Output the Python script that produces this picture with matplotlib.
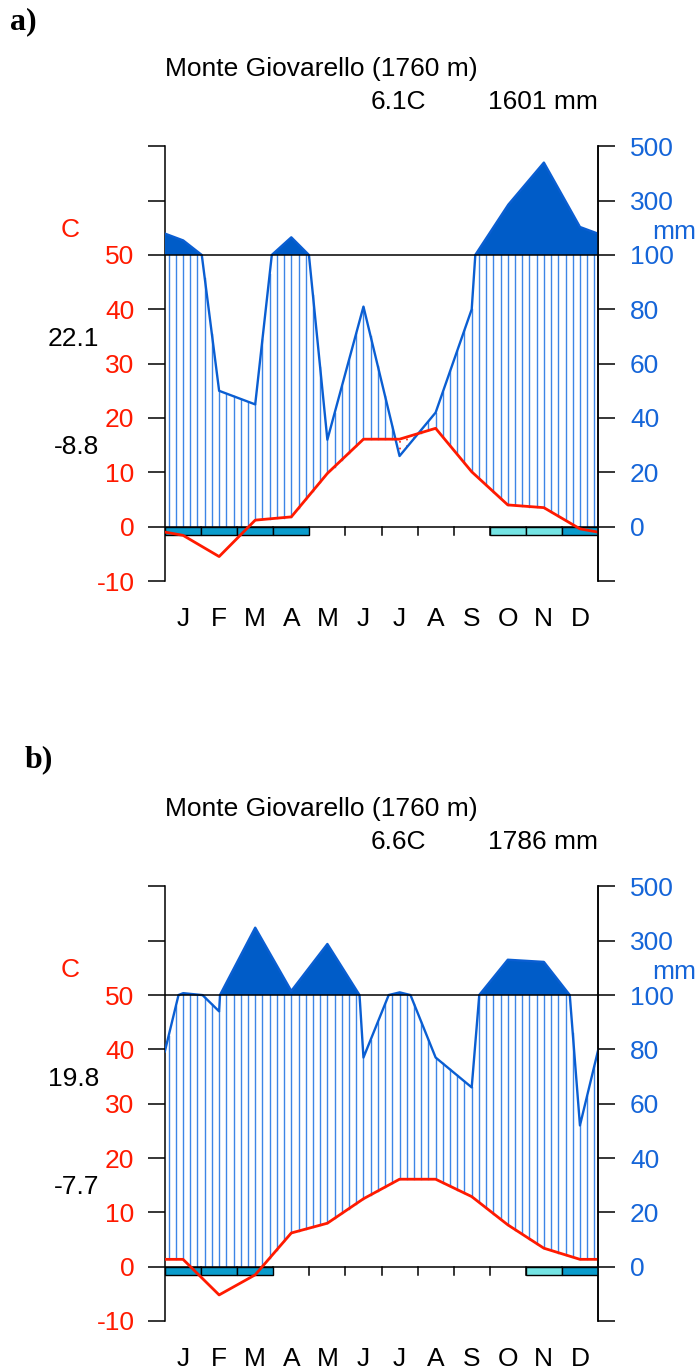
import numpy as np
import matplotlib
matplotlib.use("Agg")
import matplotlib.pyplot as plt

plt.rcParams['font.family'] = ['Liberation Sans', 'DejaVu Sans']

# ---------------- data ----------------
months = ["J", "F", "M", "A", "M", "J", "J", "A", "S", "O", "N", "D"]
station = "Monte Giovarello (1760 m)"

temp_a = [-1.6, -5.5, 1.2, 1.8, 9.8, 16.1, 16.1, 18.1, 10.1, 4.0, 3.5, -0.4]
prec_a = [154, 50, 45, 165, 32, 81, 26, 42, 80, 283, 440, 203]
absmax_a = "22.1"
absmin_a = "-8.8"
frost_a = [2, 2, 2, 2, 0, 0, 0, 0, 0, 1, 1, 2]   # 2 = sure frost, 1 = probable

temp_b = [1.35, -5.2, -1.5, 6.2, 8.0, 12.5, 16.1, 16.1, 12.9, 7.7, 3.4, 1.35]
prec_b = [107, 94, 348, 115, 288, 77, 110, 77, 66, 230, 222, 52]
absmax_b = "19.8"
absmin_b = "-7.7"
frost_b = [2, 2, 2, 0, 0, 0, 0, 0, 0, 0, 1, 2]

temp_ticks = [-10, 0, 10, 20, 30, 40, 50]
prec_labels = ["0", "20", "40", "60", "80", "100", "300", "500"]
prec_label_pos = [0, 10, 20, 30, 40, 50, 60, 70]

# ---------------- styles ----------------
W, H = 697, 1372
RED = "#ff1a00"
BLUE_TXT = "#1565d8"
FILL = "#005cc8"
PLINE = "#0a5ed2"
HATCH = "#3d85e6"
FROST_DARK = "#0a9ccc"
FROST_LIGHT = "#74e4e4"
FS = 19

fig = plt.figure(figsize=(W / 100, H / 100), dpi=100)


def px_axes(x0, x1, ytop, ybot):
    return fig.add_axes([x0 / W, 1 - ybot / H, (x1 - x0) / W, (ybot - ytop) / H])


def ptrans(p):
    p = np.asarray(p, dtype=float)
    return np.where(p <= 100, p / 2.0, 50 + (p - 100) / 20.0)


def diagram(ax, temp, prec, absmax, absmin, frost):
    temp = np.asarray(temp, float)
    prec = np.asarray(prec, float)
    x = np.arange(14) - 0.5
    t2 = np.concatenate([[temp[-1]], temp, [temp[0]]])
    p2 = np.concatenate([[prec[-1]], prec, [prec[0]]])

    # hatch / dry segments at coarse interpolation (66 points)
    xi = np.linspace(-0.5, 12.5, 66)
    ti = np.interp(xi, x, t2)
    pi = ptrans(np.interp(xi, x, p2))
    for xx, tt, pp in zip(xi, ti, pi):
        if xx < 0 or xx > 12:
            continue
        lo = max(tt, 0)
        hi = min(pp, 50)
        if hi > tt:
            ax.plot([xx, xx], [lo, hi], color=HATCH, lw=1.0, zorder=2)
        elif pp < tt:
            ax.plot([xx, xx], [pp, tt], color=RED, lw=1.2,
                    ls=(0, (1, 3)), zorder=2)

    # fine interpolation for line & fill
    xf = np.linspace(-0.5, 12.5, 2601)
    pf = ptrans(np.interp(xf, x, p2))
    ax.fill_between(xf, 50, pf, where=pf > 50, color=FILL, lw=0,
                    interpolate=True, zorder=3)
    ax.plot(xf, pf, color=PLINE, lw=1.7, zorder=4)

    # frost boxes and month ticks
    for b in range(1, 12):
        ax.plot([b, b], [0, -1.5], color="black", lw=1.1, zorder=5)
    for m, f in enumerate(frost):
        if f:
            ax.add_patch(plt.Rectangle((m, -1.5), 1, 1.5,
                                       facecolor=FROST_DARK if f == 2 else FROST_LIGHT,
                                       edgecolor="black", lw=1.0, zorder=5))

    ax.axhline(0, color="black", lw=1.1, zorder=6)
    ax.axhline(50, color="black", lw=1.1, zorder=6)

    ax.plot(x, t2, color=RED, lw=2.0, zorder=7)

    ax.set_xlim(0, 12)
    ax.set_ylim(-10, 70)
    for s in ("top", "bottom"):
        ax.spines[s].set_visible(False)
    for s in ("left", "right"):
        ax.spines[s].set_color("black")
        ax.spines[s].set_linewidth(1.1)
    ax.set_xticks([])

    ax.set_yticks(temp_ticks + [60, 70])
    ax.set_yticklabels([str(v) for v in temp_ticks] + ["", ""])
    ax.tick_params(axis="y", which="both", direction="out", length=12,
                   width=1.1, colors="black", labelcolor=RED,
                   labelsize=FS, pad=10)

    axr = ax.twinx()
    axr.set_ylim(-10, 70)
    axr.set_yticks([-10] + prec_label_pos)
    axr.set_yticklabels([""] + prec_labels)
    axr.tick_params(axis="y", direction="out", length=12, width=1.1,
                    colors="black", labelcolor=BLUE_TXT, labelsize=FS, pad=11)
    for s in ("top", "bottom", "left"):
        axr.spines[s].set_visible(False)
    axr.spines["right"].set_linewidth(1.1)

    # month letters
    for i, m in enumerate(months):
        ax.text(i + 0.5, -16.5, m, ha="center", va="center_baseline",
                fontsize=FS, color="black", clip_on=False)

    tr = ax.get_yaxis_transform()
    ax.text(-0.22, 54.6, "C", transform=tr,
            ha="center", va="center", color=RED, fontsize=FS, clip_on=False)
    ax.text(-0.152, 34.5, absmax, transform=tr, ha="right", va="center",
            fontsize=FS, color="black", clip_on=False)
    ax.text(-0.152, 14.7, absmin, transform=tr, ha="right", va="center",
            fontsize=FS, color="black", clip_on=False)
    ax.text(1.125, 54.2, "mm", transform=tr, ha="left", va="center",
            color=BLUE_TXT, fontsize=FS, clip_on=False)

    # header
    ax.text(0.0, 84.3, station, transform=tr, ha="left", va="center",
            fontsize=FS, color="black", clip_on=False)
    ax.text(0.602, 78.2, f"{temp.mean():.1f}C", transform=tr, ha="right",
            va="center", fontsize=FS, color="black", clip_on=False)
    ax.text(1.0, 78.2, f"{int(round(prec.sum()))} mm", transform=tr,
            ha="right", va="center", fontsize=FS, color="black", clip_on=False)


ax_a = px_axes(165, 598, 146.3, 581.0)
diagram(ax_a, temp_a, prec_a, absmax_a, absmin_a, frost_a)
ax_b = px_axes(165, 598, 886.4, 1321.0)
diagram(ax_b, temp_b, prec_b, absmax_b, absmin_b, frost_b)

fig.text(10 / W, 1 - 22 / H, "a)", fontsize=23, fontweight="bold",
         family="Liberation Serif", ha="left", va="center")
fig.text(25 / W, 1 - 760 / H, "b)", fontsize=23, fontweight="bold",
         family="Liberation Serif", ha="left", va="center")

fig.savefig("out.png", dpi=100, facecolor="white")
